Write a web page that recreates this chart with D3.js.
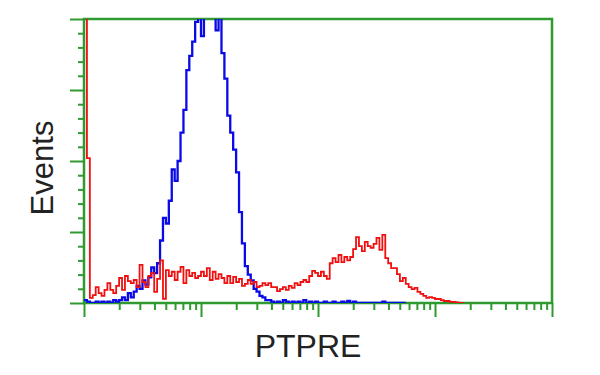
<!DOCTYPE html>
<html>
<head>
<meta charset="utf-8">
<script src="https://cdn.jsdelivr.net/npm/d3@7"></script>
<style>
  html, body { margin: 0; padding: 0; background: #fff; }
  svg { display: block; }
  .axis-title { font-family: "Liberation Sans", Arial, sans-serif; fill: #222; }
</style>
</head>
<body>
<svg id="chart" width="600" height="375"></svg>
<script>
// ---------------------------------------------------------------------------
// Data: histogram counts per channel (40 channels per decade, 4 decades)
// ---------------------------------------------------------------------------

const BINS_PER_DECADE = 40;

// isotype / control (blue)
const blueCounts = [
  1, 0.5, 0, 0, 0.5, 0, 0.5, 0, 0.5, 0,
  1, 0.5, 1, 2, 1, 3.5, 2, 4, 6, 5,
  8, 6.5, 9, 12.5, 10.5, 14, 22, 30, 28, 36,
  47, 43, 50, 60, 68, 82, 87, 92, 99, 104,
  94, 103, 106, 101, 104, 96, 102, 88, 79, 66,
  60, 54, 46, 32, 21, 13, 10, 8, 5, 4,
  2.5, 2, 1, 1, 0.5, 0, 0.5, 0, 1, 0.5,
  0, 0.5, 0, 0.5, 0, 1, 0, 0.5, 0, 0.5,
  0, 0, 0.5, 0, 0, 0.5, 0, 0, 0.5, 0,
  0.7, 0, 0.5, 0, 0, 0, 0, 0, 0, 0,
  0, 0, 0.5, 0, 0, 0, 0, 0, 0, 0
];

// PTPRE stained (red)
const redCounts = [
  120, 51, 1.8, 2.8, 5.6, 3.5, 2.5, 4.6, 7, 4.6,
  3.5, 6, 8.8, 4.6, 9.5, 7.7, 7, 8.1, 5.6, 13.4,
  7.4, 5.6, 9.5, 10.6, 3.9, 8.5, 15, 1.5, 11.6, 9.5,
  11, 8.1, 11, 12.7, 7, 11.6, 9.5, 10.6, 8.8, 9.5,
  11, 9.5, 12.3, 8.1, 11, 8.5, 10.2, 8.8, 7, 9.5,
  7, 9.2, 7.4, 8.5, 6, 6.7, 8.1, 6.7, 7.4, 5.6,
  6, 7, 6.3, 7, 5.6, 5.6, 4.2, 4.9, 5.6, 4.6,
  6, 5.3, 7, 6.3, 7.4, 8.1, 7.4, 9.5, 11.3, 10.6,
  9.5, 11, 9.5, 8.5, 14, 15.8, 14.4, 16.9, 14.4, 16.2,
  15, 16.2, 19, 23.2, 20, 18.3, 21.5, 20, 19.4, 20.8,
  22.9, 18.7, 24, 15.8, 14, 12.3, 12.3, 10.2, 7.7, 8.8,
  6.7, 5.6, 4.9, 5.3, 3.9, 3.2, 2.5, 1.8, 2.1, 1.8,
  1.4, 1.4, 1, 0.7, 0.7, 0.4, 0.4, 0.2, 0, 0
];

const yMajorTicks = [0, 25, 50, 75, 100];
const xTitle = "PTPRE";
const yTitle = "Events";

// ---------------------------------------------------------------------------
// Layout
// ---------------------------------------------------------------------------

const plot = { left: 84, right: 552, top: 19, bottom: 303 };
const GREEN = "#2f9a2f";

const svg = d3.select("#chart");

const x = d3.scaleLog().domain([1, 10000]).range([plot.left, plot.right]);
const y = d3.scaleLinear().domain([0, 100]).range([plot.bottom, plot.top]);

// channel i covers [10^(i/40), 10^((i+1)/40))
const edge = (i) => Math.pow(10, i / BINS_PER_DECADE);

function stepPoints(counts) {
  const pts = counts.map((c, i) => [x(edge(i)), y(c)]);
  pts.push([x(edge(counts.length)), y(counts[counts.length - 1])]);
  return pts;
}

svg.append("defs")
  .append("clipPath")
  .attr("id", "plot-clip")
  .append("rect")
  .attr("x", plot.left)
  .attr("y", plot.top)
  .attr("width", plot.right - plot.left)
  .attr("height", plot.bottom - plot.top);

// ---------------------------------------------------------------------------
// Axes
// ---------------------------------------------------------------------------

const yMinor = d3.range(0, 101, 5).filter((v) => !yMajorTicks.includes(v));

const yAxisMajor = d3.axisLeft(y).tickValues(yMajorTicks).tickSize(14).tickFormat("");
const yAxisMinor = d3.axisLeft(y).tickValues(yMinor).tickSize(6).tickFormat("");

const xMajor = [1, 10, 100, 1000, 10000];
const xMinor = x.ticks().filter((v) => !xMajor.includes(v));
const xAxisMajor = d3.axisBottom(x).tickValues(xMajor).tickSize(14).tickFormat("");
const xAxisMinor = d3.axisBottom(x).tickValues(xMinor).tickSize(7).tickFormat("");

function styleAxis(sel) {
  sel.select(".domain").remove();
  sel.selectAll("line").attr("stroke", GREEN).attr("stroke-width", 2);
}

svg.append("g").attr("transform", `translate(${plot.left},0)`).call(yAxisMajor).call(styleAxis);
svg.append("g").attr("transform", `translate(${plot.left},0)`).call(yAxisMinor).call(styleAxis);
svg.append("g").attr("transform", `translate(0,${plot.bottom})`).call(xAxisMajor).call(styleAxis);
svg.append("g").attr("transform", `translate(0,${plot.bottom})`).call(xAxisMinor).call(styleAxis);

// frame
svg.append("rect")
  .attr("x", plot.left)
  .attr("y", plot.top)
  .attr("width", plot.right - plot.left)
  .attr("height", plot.bottom - plot.top)
  .attr("fill", "none")
  .attr("stroke", GREEN)
  .attr("stroke-width", 2.5);

// ---------------------------------------------------------------------------
// Histograms
// ---------------------------------------------------------------------------

const line = d3.line().curve(d3.curveStepAfter);
const curves = svg.append("g").attr("clip-path", "url(#plot-clip)");

curves.append("path")
  .attr("d", line(stepPoints(blueCounts)))
  .attr("fill", "none")
  .attr("stroke", "#0a0ae6")
  .attr("stroke-width", 2.3);

curves.append("path")
  .attr("d", line(stepPoints(redCounts)))
  .attr("fill", "none")
  .attr("stroke", "#f01010")
  .attr("stroke-width", 1.8);

// ---------------------------------------------------------------------------
// Titles
// ---------------------------------------------------------------------------

svg.append("text")
  .attr("class", "axis-title")
  .attr("x", (plot.left + plot.right) / 2 - 10)
  .attr("y", 357)
  .attr("text-anchor", "middle")
  .attr("font-size", 32)
  .text(xTitle);

svg.append("text")
  .attr("class", "axis-title")
  .attr("transform", `translate(53,168) rotate(-90)`)
  .attr("text-anchor", "middle")
  .attr("font-size", 31)
  .text(yTitle);
</script>
</body>
</html>
